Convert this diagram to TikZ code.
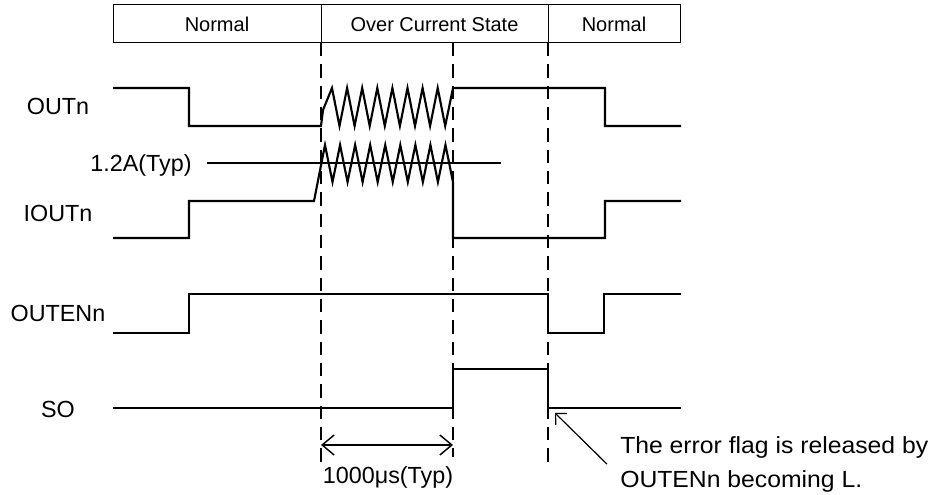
\documentclass[tikz,border=0pt]{standalone}
\usepackage{fontspec}
\setmainfont{Liberation Sans}
\usetikzlibrary{arrows.meta}

\begin{document}
\begin{tikzpicture}[x=0.75pt,y=-0.75pt,
    >={Straight Barb[length=9pt,width=15pt]},
    sig/.style={line width=1.6pt,line join=miter},
    guide/.style={line width=1.2pt,dash pattern=on 10pt off 6pt},
    lbl/.style={font=\fontsize{17.5}{25.5}\selectfont,inner sep=0pt},
    hdr/.style={font=\fontsize{15}{18}\selectfont,inner sep=0pt}]
  \useasboundingbox (0,0) rectangle (939,495);

  % State band along the top.
  \draw[line width=0.75pt] (113,5) rectangle (680,43);
  \draw[line width=0.75pt] (321,5)--(321,43) (548,5)--(548,43);
  \node[hdr,anchor=base] (normA) at (217,32) {Normal};
  \node[hdr,anchor=base] (ocState) at (434.5,32) {Over Current State};
  \node[hdr,anchor=base] (normB) at (614,32) {Normal};

  % Dashed time marks below the band.
  \foreach \x/\yy in {321/467,453/457,548/463}
    {\draw[guide] (\x,43)--(\x,\yy);}

  % Signal names.
  \node[lbl,anchor=base] (outn) at (58,115) {OUTn};
  \node[lbl,anchor=base] (ioutn) at (58,222) {IOUTn};
  \node[lbl,anchor=base] (outenn) at (58,322) {OUTENn};
  \node[lbl,anchor=base] (so) at (58,417) {SO};
  \node[lbl,anchor=base] (ilim) at (141,172) {1.2A(Typ)};

  % OUTn, chopping while the current is limited.
  \draw[sig] (113,88)--(189,88)--(189,126)--(321,126)--(323,110)
    \foreach \k in {0,...,7} {--({332+15.1*\k},88)--({339.5+15.1*\k},126)}
    --(453,88)--(605,88)--(605,126)--(681,126);

  % IOUTn with the current limit level.
  \draw[line width=1.4pt] (207,163)--(501,163);
  \draw[sig] (113,238)--(189,238)--(189,201)--(314,201)
    \foreach \k in {0,...,8} {--({325+15.06*\k},145)--({332.5+15.06*\k},182)}
    --(453,238)--(605,238)--(605,201)--(681,201);

  % OUTENn and SO.
  \draw[sig] (113,333)--(189,333)--(189,294)--(548,294)--(548,333)
    --(604,333)--(604,294)--(681,294);
  \draw[sig] (113,408)--(453,408)--(453,369)--(548,369)--(548,408)--(681,408);

  % Detection time.
  \coordinate (dimL) at (321,445);
  \coordinate (dimR) at (453,445);
  \draw[<->,line width=1.1pt] (dimL)--(dimR);
  \node[lbl,anchor=base] (tdet) at (388,483) {1000μs(Typ)};

  % Release note.
  \node[lbl,anchor=north west,align=left] (flag) at (620,436)
    {\addfontfeature{FakeStretch=1.06}The error flag is released by\\
     \addfontfeature{FakeStretch=1.06}OUTENn becoming L.};
  \coordinate (soRel) at (555,413);
  \draw[line width=0.9pt,-{Straight Barb[length=6pt,width=12pt]}]
    ([xshift=-9.75pt]flag.west)--(soRel);
\end{tikzpicture}
\end{document}
